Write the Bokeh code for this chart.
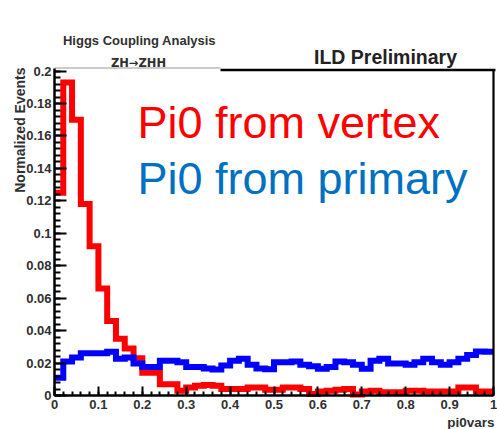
import numpy as np
from bokeh.plotting import figure
from bokeh.models import Label, FixedTicker, LinearAxis
from bokeh.embed import file_html
from bokeh.resources import INLINE

# pi0vars distribution, 50 bins on [0, 1], normalised to unit area
n_bins = 50
x_lo, x_hi = 0.0, 1.0

pi0_from_vertex = [
    0.125, 0.193, 0.170, 0.118, 0.092, 0.066, 0.046, 0.035, 0.029, 0.023,
    0.014, 0.014, 0.007, 0.007, 0.003, 0.005, 0.006, 0.0065, 0.006, 0.004,
    0.004, 0.004, 0.005, 0.005, 0.0035, 0.0035, 0.005, 0.005, 0.004, 0.001,
    0.0025, 0.003, 0.0035, 0.004, 0.0006, 0.0025, 0.003, 0.002, 0.002, 0.002,
    0.003, 0.003, 0.0025, 0.0025, 0.0025, 0.0025, 0.005, 0.005, 0.0025, 0.0025,
]

pi0_from_primary = [
    0.011, 0.021, 0.0235, 0.026, 0.026, 0.026, 0.027, 0.0227, 0.0235, 0.0197,
    0.0175, 0.0175, 0.0215, 0.0215, 0.0205, 0.0175, 0.0175, 0.0166, 0.016, 0.0185,
    0.0215, 0.0227, 0.019, 0.0166, 0.0162, 0.0205, 0.0205, 0.021, 0.019, 0.018,
    0.0165, 0.0175, 0.021, 0.0205, 0.019, 0.0165, 0.0215, 0.0227, 0.0197, 0.0197,
    0.019, 0.0205, 0.0227, 0.0205, 0.019, 0.0205, 0.0227, 0.025, 0.0272, 0.027,
]

y_ticks = [0.0, 0.02, 0.04, 0.06, 0.08, 0.1, 0.12, 0.14, 0.16, 0.18, 0.2]
y_tick_labels = ["0", "0.02", "0.04", "0.06", "0.08", "0.1", "0.12", "0.14", "0.16", "0.18", "0.2"]
x_ticks = [0.0, 0.1, 0.2, 0.3, 0.4, 0.5, 0.6, 0.7, 0.8, 0.9, 1.0]
x_tick_labels = ["0", "0.1", "0.2", "0.3", "0.4", "0.5", "0.6", "0.7", "0.8", "0.9", "1"]

FONT = "Liberation Sans"
INK = "#303030"

W, H = 497, 429
# pad geometry: x = 0 at pixel 54, 439 px per unit; y = 0 at pixel 395, 1622 px per unit
X0_PX, X_SCALE = 54.0, 439.0
Y0_PX, Y_SCALE = 395.0, 1622.0


def px_x(px):
    return (px - X0_PX) / X_SCALE


def px_y(py):
    return (Y0_PX - py) / Y_SCALE


Y_TOP = px_y(68)  # upper edge of the histogram frame

p = figure(
    width=W, height=H,
    x_range=(px_x(0), px_x(W)), y_range=(px_y(H), px_y(0)),
    output_backend="svg", toolbar_location=None,
    x_axis_location=None, y_axis_location=None, title_location=None,
    min_border=0,
)
p.outline_line_color = None
p.grid.visible = False
p.background_fill_color = "white"
p.border_fill_color = "white"


def step_path(values):
    edges = np.linspace(x_lo, x_hi, n_bins + 1)
    xs = np.repeat(edges, 2)[1:-1]
    ys = np.repeat(values, 2)
    return xs, ys


xr, yr = step_path(pi0_from_vertex)
xb, yb = step_path(pi0_from_primary)
p.line(xr, yr, line_color="#ff0000", line_width=6, line_join="miter")
p.line(xb, yb, line_color="#0000ff", line_width=6, line_join="miter")

# frame: thin grey edge on the top-left, black box edge on the right part
p.segment(x0=[0.0], y0=[px_y(67.5)], x1=[px_x(220)], y1=[px_y(67.5)], line_color="#9a9a9a", line_width=1.2)
p.segment(x0=[px_x(220)], y0=[px_y(69.5)], x1=[px_x(495)], y1=[px_y(69.5)], line_color="black", line_width=2.5)
p.segment(x0=[x_hi], y0=[0.0], x1=[x_hi], y1=[px_y(69.5)], line_color="black", line_width=2.2)

# axes in the ROOT style: ticks pointing inwards
ya = LinearAxis(fixed_location=x_lo, bounds=(0, Y_TOP))
ya.ticker = FixedTicker(ticks=y_ticks, minor_ticks=list(np.round(np.arange(0, 0.2001, 0.004), 4)))
ya.major_label_overrides = dict(zip(y_ticks, y_tick_labels))
ya.major_tick_in = 12
ya.major_tick_out = 0
ya.minor_tick_in = 6
ya.minor_tick_out = 0
ya.axis_line_width = 2.5
ya.major_tick_line_width = 2
ya.minor_tick_line_width = 2
ya.major_label_standoff = 3
ya.major_label_text_font = FONT
ya.major_label_text_font_style = "bold"
ya.major_label_text_font_size = "13px"
ya.major_label_text_color = INK
p.add_layout(ya, "left")

xa = LinearAxis(fixed_location=0.0, bounds=(x_lo, x_hi))
xa.ticker = FixedTicker(ticks=x_ticks, minor_ticks=list(np.round(np.arange(0, 1.0001, 0.02), 3)))
xa.major_label_overrides = dict(zip(x_ticks, x_tick_labels))
xa.major_tick_in = 9
xa.major_tick_out = 0
xa.minor_tick_in = 4
xa.minor_tick_out = 0
xa.axis_line_width = 2.5
xa.major_tick_line_width = 2
xa.minor_tick_line_width = 2
xa.major_label_standoff = 4
xa.major_label_text_font = FONT
xa.major_label_text_font_style = "bold"
xa.major_label_text_font_size = "13px"
xa.major_label_text_color = INK
p.add_layout(xa, "below")

texts = [
    dict(text="Higgs Coupling Analysis", x=px_x(139), y=px_y(40), text_align="center",
         text_font=FONT, text_font_size="13px", text_font_style="bold", text_color=INK),
    dict(text="ZH\u2192ZHH", x=px_x(138), y=px_y(62), text_align="center",
         text_font="DejaVu Sans", text_font_size="11.5px", text_font_style="bold", text_color=INK),
    dict(text="ILD Preliminary", x=px_x(385), y=px_y(56), text_align="center",
         text_font=FONT, text_font_size="19.5px", text_font_style="bold", text_color="#222222"),
    dict(text="pi0vars", x=px_x(494), y=px_y(422), text_align="right",
         text_font=FONT, text_font_size="13.5px", text_font_style="bold", text_color=INK),
    dict(text="Pi0 from vertex", x=px_x(137), y=px_y(122), text_align="left",
         text_font=FONT, text_font_size="45px", text_font_style="normal", text_color="#ff0000"),
    dict(text="Pi0 from primary", x=px_x(137), y=px_y(178), text_align="left",
         text_font=FONT, text_font_size="45px", text_font_style="normal", text_color="#0070c0"),
]
for t in texts:
    p.add_layout(Label(x_units="data", y_units="data", text_baseline="alphabetic", **t))

p.add_layout(Label(text="Normalized Events", x=px_x(19), y=px_y(67), angle=np.pi / 2,
                   text_align="right", text_baseline="middle", text_font=FONT,
                   text_font_style="bold", text_font_size="14px", text_color=INK))

open("out.html", "w").write(file_html(p, INLINE))
